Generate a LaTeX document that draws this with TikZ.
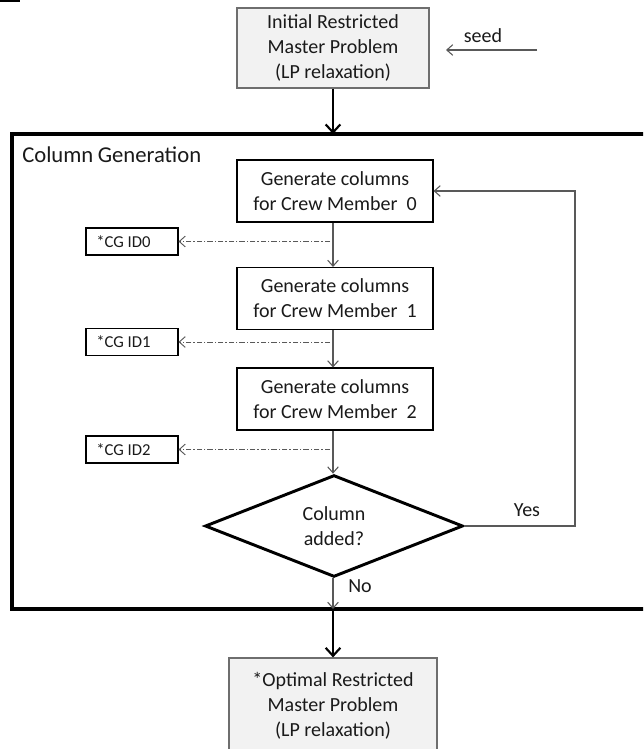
\documentclass[tikz,border=0pt]{standalone}
\usepackage{fontspec}
\setmainfont{Carlito}
\usetikzlibrary{arrows.meta,shapes.geometric}

\definecolor{boxfill}{HTML}{F2F2F2}
\definecolor{boxedge}{HTML}{6E6E6E}
\definecolor{flow}{HTML}{595959}
\definecolor{ink}{HTML}{1A1A1A}

\tikzset{
  base/.style={font=\fontsize{15}{18.75}\selectfont, text=ink, align=center, inner sep=0pt},
  masterbox/.style={base, draw=boxedge, line width=0.9pt, fill=boxfill},
  genbox/.style={base, draw=black, line width=0.8pt, fill=white,
    minimum width=147pt, minimum height=46.5pt},
  idbox/.style={draw=black, line width=0.8pt, minimum width=69pt, minimum height=20.25pt, inner sep=0pt},
  idtext/.style={font=\fontsize{12.5}{14}\selectfont, text=ink, inner sep=0pt, anchor=west},
  decision/.style={base, diamond, draw=black, line width=2.2pt,
    minimum width=193.5pt, minimum height=73.5pt},
  thinarrow/.style={draw=flow, line width=0.8pt, -{Straight Barb[length=4.5pt,width=8pt]}},
  thickarrow/.style={draw=black, line width=1.6pt, -{Straight Barb[length=6pt,width=11pt]}},
  logarrow/.style={draw=flow, line width=0.7pt, dash pattern=on 4pt off 1.5pt on 1pt off 1.5pt,
    -{Straight Barb[length=4.5pt,width=8pt]}},
  lbl/.style={font=\fontsize{15}{18}\selectfont, text=ink, inner sep=0pt},
}

\begin{document}
\begin{tikzpicture}[x=0.75pt, y=-0.75pt]
  \clip (0,0) rectangle (643,749);
  \fill[white] (0,0) rectangle (643,749);
  \fill[black] (0,0) rectangle (20,2);

  % master problems
  \node[masterbox, minimum width=144pt, minimum height=60pt] (init) at (333,48)
    {Initial Restricted\\Master Problem\\(LP relaxation)};
  \node[masterbox, minimum width=156pt, minimum height=72pt] (opt) at (333,706)
    {*Optimal Restricted\\Master Problem\\(LP relaxation)};

  % seed input
  \coordinate (seedsrc) at (537,50);
  \coordinate (seedtip) at (446,50);
  \draw[thinarrow] (seedsrc) -- (seedtip);
  \node[lbl] (seed) at (483,36) {seed};

  % column generation frame
  \draw[black, line width=2.4pt] (700,134) -- (12,134) -- (12,609) -- (700,609);
  \node[font=\fontsize{17}{20}\selectfont, text=ink, inner sep=0pt, anchor=west] (cgtitle) at (22,155)
    {Column\kern-0.5pt\ Generation};
  \coordinate (ftop) at (333,134);
  \coordinate (fbot) at (333,609);

  % subproblems
  \node[genbox] (cg0) at (335,191) {Generate columns\\for Crew Member\ \ 0};
  \node[genbox] (cg1) at (335,298.5) {Generate columns\\for Crew Member\ \ 1};
  \node[genbox] (cg2) at (335,399) {Generate columns\\for Crew Member\ \ 2};

  \node[decision] (dec) at (334,526) {Column\\added?};

  % log boxes
  \node[idbox] (id0) at (132,241.5) {};
  \node[idbox] (id1) at (132,342) {};
  \node[idbox] (id2) at (132,449.5) {};
  \node[idtext] (id0t) at (96,241.5) {*CG ID0};
  \node[idtext] (id1t) at (96,342) {*CG ID1};
  \node[idtext] (id2t) at (96,449.5) {*CG ID2};

  \coordinate (tap0) at (330,241.5);
  \coordinate (tap1) at (330,342);
  \coordinate (tap2) at (330,449.5);
  \draw[logarrow] (tap0) -- (id0.east);
  \draw[logarrow] (tap1) -- (id1.east);
  \draw[logarrow] (tap2) -- (id2.east);

  % flow
  \draw[thickarrow] (init.south) -- (ftop);
  \draw[thinarrow] (cg0.south -| 333,0) -- (cg1.north -| 333,0);
  \draw[thinarrow] (cg1.south -| 333,0) -- (cg2.north -| 333,0);
  \draw[thinarrow] (cg2.south -| 333,0) -- (dec.north -| 333,0);
  \coordinate (loop) at (575,526);
  \draw[thinarrow] (dec.east) -- (loop) |- (cg0.east);
  \draw[thinarrow] (dec.south -| 333,0) -- (fbot);
  \draw[thickarrow] (fbot) -- (opt.north);

  \node[lbl] (yes) at (527,510) {Yes};
  \node[lbl] (no) at (360,586) {No};
\end{tikzpicture}
\end{document}
